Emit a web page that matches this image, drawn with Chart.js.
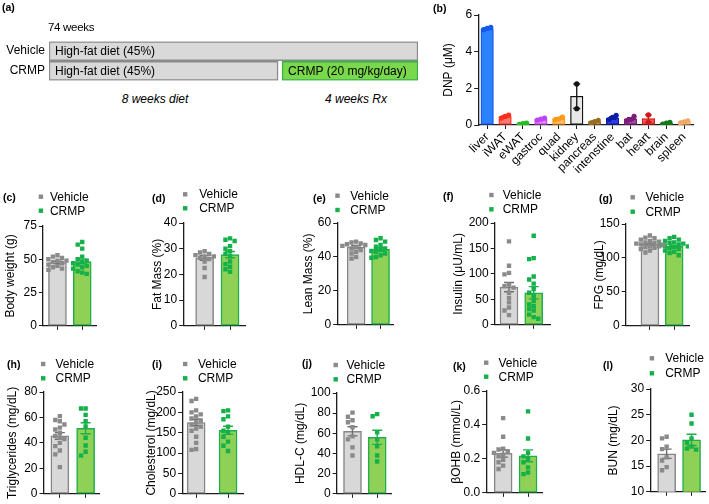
<!DOCTYPE html>
<html>
<head>
<meta charset="utf-8">
<script src="https://cdn.jsdelivr.net/npm/chart.js@4.4.1/dist/chart.umd.min.js"></script>
<style>
body { margin: 0; background: #fff; }
#fig { position: relative; width: 709px; height: 504px; overflow: hidden; font-family: "Liberation Sans", Arial, sans-serif; color: #000; }
#fig canvas { position: absolute; }
.lbl { position: absolute; font-weight: bold; font-size: 10.5px; line-height: 12px; }
.note { position: absolute; font-size: 12px; line-height: 14px; white-space: nowrap; }
</style>
</head>
<body>
<div id="fig"></div>
<script>
// ---- data ----
const groups = ['Vehicle', 'CRMP'];

// (a) study design (weeks)
const arms = ['Vehicle', 'CRMP'];
const dietSpan = [[0, 12], [0, 7.45]];
const rxSpan = [null, [7.58, 12]];

// (b) DNP by tissue
const tissues = ['liver', 'iWAT', 'eWAT', 'gastroc', 'quad', 'kidney', 'pancreas', 'intenstine', 'bat', 'heart', 'brain', 'spleen'];
const dnpMean = [5.25, 0.46, 0.07, 0.32, 0.35, 1.57, 0.18, 0.38, 0.33, 0.35, 0.1, 0.17];
const dnpSem = [0.04, 0.05, 0.02, 0.03, 0.04, 0.67, 0.04, 0.07, 0.07, 0.2, 0.03, 0.04];
const dnpPoints = [[5.2, 5.27, 5.33], [0.38, 0.47, 0.54], [0.04, 0.07, 0.1], [0.27, 0.32, 0.37], [0.29, 0.34, 0.43], [2.24, 0.89],
  [0.12, 0.18, 0.25], [0.3, 0.42, 0.52], [0.24, 0.3, 0.47], [0.55, 0.15], [0.05, 0.1, 0.15], [0.12, 0.17, 0.23]];
const tissueFill = ['#2b82ff', '#f77b74', '#6ddf6a', '#df8bfb', '#ffbe6b', '#e8e8e8', '#c29a55', '#2b3fe0', '#a24da2', '#ef5f5a', '#3da43b', '#f8cfa1'];
const tissueLine = ['#1456f0', '#ff2d1c', '#1bc21b', '#c043f2', '#ff9812', '#111111', '#9a6e22', '#0b1ba8', '#7b1b7b', '#d2191a', '#157a16', '#f1a864'];

// (c) body weight
const bwVeh = [53, 52, 51, 50, 49, 49, 48, 47, 46, 45, 44, 43, 42];
const bwCrmp = [63, 61, 58, 52, 50, 49, 48, 47, 46, 45, 44, 43, 41, 40, 39];
const bwMean = [47.6, 48.3];
const bwSem = [0.9, 1.8];
// (d) fat mass
const fatVeh = [29, 28.5, 28, 27.5, 27, 27, 26.5, 26, 25, 22.5, 19];
const fatCrmp = [34, 33.5, 33, 31, 30, 29, 28, 27, 25, 24, 23, 22, 21];
const fatMean = [26.4, 27.7];
const fatSem = [0.9, 1.2];
// (e) lean mass
const leanVeh = [49, 48.5, 48, 47.5, 47, 46.5, 46, 45, 44, 43, 42, 40, 39];
const leanCrmp = [51, 50, 49, 47, 46, 45, 44, 43.5, 43, 42, 41, 40, 39.5];
const leanMean = [45.8, 44.5];
const leanSem = [0.8, 0.9];
// (f) insulin
const insVeh = [164, 116, 102, 99, 79, 76, 73, 63, 53, 44, 34, 28, 19];
const insCrmp = [175, 131, 129, 95, 89, 81, 70, 63, 57, 47, 40, 37, 31, 28, 20, 15, 12];
const insMean = [74, 63];
const insSem = [9, 12];
// (g) FPG
const fpgVeh = [133, 130, 129, 127, 125, 124, 123, 122, 121, 120, 119, 118, 117, 116, 115, 113, 111, 108];
const fpgCrmp = [131, 129, 127, 125, 123, 122, 121, 120, 119, 118, 117, 116, 114, 113, 111, 109, 107, 104];
const fpgMean = [120, 117];
const fpgSem = [1.5, 1.7];
// (h) triglycerides
const tgVeh = [61, 58, 57, 54.5, 52, 50.5, 48, 45.5, 44, 43, 40, 37.5, 34, 31, 21];
const tgCrmp = [67, 67, 62, 57, 53, 44, 38, 33, 30];
const tgMean = [45.5, 51.5];
const tgSem = [2.6, 4.3];
// (i) cholesterol
const chVeh = [233, 228, 205, 200, 195, 190, 185, 180, 175, 170, 165, 160, 155, 140, 125, 110, 108];
const chCrmp = [205, 203, 190, 183, 165, 155, 150, 140, 128, 118, 105];
const chMean = [175, 156];
const chSem = [8, 10];
// (j) HDL-C
const hdlVeh = [80.5, 76.5, 73, 71, 66, 57, 54, 46, 38];
const hdlCrmp = [79, 77, 61, 54, 47, 38, 32];
const hdlMean = [62, 56];
const hdlSem = [4.5, 7];
// (k) beta-hydroxybutyrate
const bhbVeh = [0.44, 0.33, 0.26, 0.255, 0.245, 0.235, 0.225, 0.215, 0.195, 0.18, 0.16, 0.14];
const bhbCrmp = [0.48, 0.32, 0.235, 0.215, 0.2, 0.18, 0.15, 0.12, 0.11];
const bhbMean = [0.232, 0.218];
const bhbSem = [0.022, 0.035];
// (l) BUN
const bunVeh = [20.7, 20.4, 18.8, 18.3, 16.7, 16.1, 14.8, 14.2];
const bunCrmp = [25, 23.3, 20.4, 19.6, 18.8, 18.4, 18.2];
const bunMean = [17.4, 20.1];
const bunSem = [0.9, 1.1];

// ---- styles ----
const FONT = '"Liberation Sans", Arial, sans-serif';
const AXIS = '#1c1c1c';
const GRAY_FILL = '#d8d8d8', GRAY_LINE = '#868686', VEH_PT = '#8a8a8a';
const GREEN_FILL = '#8fd156', GREEN_LINE = '#1fae4b', CRMP_PT = '#14b04a';
Chart.defaults.font.family = FONT;
Chart.defaults.color = '#000';

const fig = document.getElementById('fig');

function addCanvas(left, top, w, h) {
  const c = document.createElement('canvas');
  c.width = w; c.height = h;
  c.style.left = left + 'px'; c.style.top = top + 'px';
  c.style.width = w + 'px'; c.style.height = h + 'px';
  fig.appendChild(c);
  return c;
}

function addText(cls, text, x, cy, extra) {
  const d = document.createElement('div');
  d.className = cls;
  d.textContent = text;
  d.style.left = x + 'px';
  d.style.top = (cy - (cls === 'lbl' ? 6 : 7)) + 'px';
  if (extra) Object.assign(d.style, extra);
  fig.appendChild(d);
}

// simple centre-out swarm so squares don't overlap
function swarm(vals, pxPerVal, pxPerX) {
  const s = 4.6;
  const idx = vals.map((v, i) => i).sort((a, b) => vals[b] - vals[a]);
  const placed = [], out = [];
  idx.forEach(i => {
    const y = vals[i] * pxPerVal;
    let best = 0;
    for (const k of [0, -1, 1, -2, 2, -3, 3]) {
      best = k * s;
      if (placed.every(p => Math.abs(p.y - y) >= s || Math.abs(p.x - best) >= s)) break;
    }
    placed.push({ x: best, y });
    out[i] = best / pxPerX;
  });
  return out;
}

const errBars = {
  id: 'errBars',
  afterDatasetDraw(chart, args, o) {
    if (args.meta.type !== 'bar') return;
    const x = chart.scales.x, y = chart.scales.y, ctx = chart.ctx;
    ctx.save();
    ctx.lineWidth = o.width;
    o.mean.forEach((m, i) => {
      const px = x.getPixelForValue(i);
      const hi = y.getPixelForValue(m + o.sem[i]);
      const lo = y.getPixelForValue(Math.max(m - o.sem[i], y.min));
      ctx.strokeStyle = o.colors[i];
      ctx.beginPath();
      ctx.moveTo(px, hi); ctx.lineTo(px, lo);
      ctx.moveTo(px - o.cap, hi); ctx.lineTo(px + o.cap, hi);
      ctx.moveTo(px - o.cap, lo); ctx.lineTo(px + o.cap, lo);
      ctx.stroke();
    });
    ctx.restore();
  }
};

const groupLegend = {
  id: 'groupLegend',
  afterDraw(chart, args, o) {
    const ctx = chart.ctx;
    ctx.save();
    ctx.font = '12px ' + FONT;
    ctx.textBaseline = 'middle';
    groups.forEach((g, i) => {
      ctx.fillStyle = o.colors[i];
      ctx.fillRect(o.mx - 2.2, o.y[i] - 2.2, 4.4, 4.4);
      ctx.fillStyle = '#000';
      ctx.fillText(g, o.tx, o.y[i] + 0.5);
    });
    ctx.restore();
  }
};

const barText = {
  id: 'barText',
  afterDatasetsDraw(chart) {
    const ctx = chart.ctx;
    ctx.save();
    ctx.font = '12px ' + FONT;
    ctx.fillStyle = '#000';
    ctx.textBaseline = 'middle';
    chart.data.datasets.forEach((ds, di) => {
      chart.getDatasetMeta(di).data.forEach((el, i) => {
        if (ds.data[i] == null) return;
        ctx.fillText(ds.label, Math.min(el.x, el.base) + 6, el.y + 0.5);
      });
    });
    ctx.restore();
  }
};

// ---- (a) design ----
function designChart() {
  const ct = 30, left = 49, right = 418, top = 40, bottom = 83.5;
  const w = right + 2, h = Math.ceil(bottom + 8.5 - ct);
  const canvas = addCanvas(0, ct, w, h);
  new Chart(canvas, {
    type: 'bar',
    data: {
      labels: arms,
      datasets: [
        { label: 'High-fat diet (45%)', data: dietSpan, backgroundColor: '#d9d9d9', borderColor: '#8a8a8a', borderWidth: 1.5, barThickness: 19, borderSkipped: false, grouped: false },
        { label: 'CRMP (20 mg/kg/day)', data: rxSpan, backgroundColor: '#7ad84c', borderColor: '#34b34a', borderWidth: 1.5, barThickness: 19, borderSkipped: false, grouped: false }
      ]
    },
    options: {
      indexAxis: 'y', responsive: false, animation: false, devicePixelRatio: 1,
      layout: { padding: { top: top - ct, bottom: h - (bottom - ct), right: 2, left: 0 } },
      plugins: { legend: { display: false }, tooltip: { enabled: false } },
      scales: {
        x: { type: 'linear', min: 0, max: 12, display: false },
        y: { grid: { display: false, drawTicks: false }, border: { display: false }, ticks: { font: { size: 12 }, color: '#000', padding: 4 },
             afterFit: s => { s.width = left; } }
      }
    },
    plugins: [barText]
  });
  addText('note', '74 weeks', 48, 26.7, { fontSize: '11.5px', letterSpacing: '-0.3px' });
  addText('note', '8 weeks diet', 155, 99, { fontStyle: 'italic', transform: 'translateX(-50%)' });
  addText('note', '4 weeks Rx', 356, 99, { fontStyle: 'italic', transform: 'translateX(-50%)' });
}

// ---- (b) DNP ----
function dnpChart() {
  const cl = 448 - 7.2, ct = 0, top = 15, bottom = 125, axisX = 478, endX = 693;
  const w = Math.ceil(endX - cl + 12), h = bottom + 52;
  const canvas = addCanvas(cl, ct, w, h);
  const pts = [], ptCol = [];
  dnpPoints.forEach((arr, i) => arr.forEach((v, j) => {
    const off = arr.length === 3 ? (j - 1) * 0.2 : 0;
    pts.push({ x: i + off, y: v });
    ptCol.push(tissueLine[i]);
  }));
  new Chart(canvas, {
    type: 'bar',
    data: {
      datasets: [
        { type: 'bar', data: dnpMean.map((m, i) => ({ x: i, y: m })), backgroundColor: tissueFill, borderColor: tissueLine,
          borderWidth: 1.3, barThickness: 12.5, borderSkipped: false, order: 3 },
        { type: 'scatter', data: pts, backgroundColor: ptCol, pointRadius: 2.6, borderWidth: 0, order: 1 }
      ]
    },
    options: {
      responsive: false, animation: false, devicePixelRatio: 1,
      layout: { padding: { top: top - ct, right: w - (endX - cl), left: 0, bottom: 0 } },
      plugins: { legend: { display: false }, tooltip: { enabled: false },
                 errBars: { mean: dnpMean, sem: dnpSem, colors: tissueLine, cap: 3.5, width: 1.3 } },
      scales: {
        x: { type: 'linear', min: -0.5, max: 11.5, offset: false,
             afterBuildTicks: s => { s.ticks = tissues.map((t, i) => ({ value: i })); },
             ticks: { autoSkip: false, minRotation: 45, maxRotation: 45, padding: 1, font: { size: 12 }, color: '#000', callback: v => tissues[v] },
             grid: { drawOnChartArea: false, tickLength: 4, color: AXIS, offset: false }, border: { color: AXIS, width: 1.3 },
             afterFit: s => { s.height = h - bottom; } },
        y: { min: 0, max: 6, ticks: { stepSize: 2, font: { size: 12 }, color: '#000', padding: 2 },
             grid: { drawOnChartArea: false, tickLength: 4, color: AXIS }, border: { color: AXIS, width: 1.3 },
             title: { display: true, text: 'DNP (μM)', font: { size: 12 }, color: '#000', padding: 0 },
             afterFit: s => { s.width = axisX - cl; } }
      }
    },
    plugins: [errBars]
  });
}

// ---- (c)-(l) vehicle vs CRMP ----
function groupPanel(p) {
  const cl = p.titleX - 7.2, ct = p.canvasTop;
  const w = Math.ceil(p.endX - cl + 3), h = Math.ceil(p.bottom + 8 - ct);
  const canvas = addCanvas(cl, ct, w, h);
  const unit = p.crmpX - p.vehX;
  const xmin = -(p.vehX - p.axisX) / unit, xmax = 1 + (p.endX - p.crmpX) / unit;
  const pxPerVal = (p.bottom - p.top) / (p.max - p.min);
  const offV = swarm(p.veh, pxPerVal, unit), offC = swarm(p.crmp, pxPerVal, unit);
  new Chart(canvas, {
    type: 'bar',
    data: {
      datasets: [
        { type: 'bar', data: p.mean.map((m, i) => ({ x: i, y: m })), backgroundColor: [GRAY_FILL, GREEN_FILL], borderColor: [GRAY_LINE, GREEN_LINE],
          borderWidth: 1.5, barThickness: 18, borderSkipped: false, order: 3 },
        { type: 'scatter', label: groups[0], data: p.veh.map((v, i) => ({ x: offV[i], y: v })), pointStyle: 'rect', pointRadius: 3.1,
          backgroundColor: VEH_PT, borderWidth: 0, order: 1 },
        { type: 'scatter', label: groups[1], data: p.crmp.map((v, i) => ({ x: 1 + offC[i], y: v })), pointStyle: 'rect', pointRadius: 3.1,
          backgroundColor: CRMP_PT, borderWidth: 0, order: 1 }
      ]
    },
    options: {
      responsive: false, animation: false, devicePixelRatio: 1,
      layout: { padding: { top: p.top - ct, right: w - (p.endX - cl), left: 0, bottom: 0 } },
      plugins: {
        legend: { display: false }, tooltip: { enabled: false },
        errBars: { mean: p.mean, sem: p.sem, colors: ['#6e6e6e', GREEN_LINE], cap: 5, width: 1.4 },
        groupLegend: { mx: p.leg.mx - cl, tx: p.leg.tx - cl, y: [p.leg.y[0] - ct, p.leg.y[1] - ct], colors: [VEH_PT, CRMP_PT] }
      },
      scales: {
        x: { type: 'linear', min: xmin, max: xmax, offset: false,
             afterBuildTicks: s => { s.ticks = [{ value: 0 }, { value: 1 }]; },
             ticks: { display: false },
             grid: { drawOnChartArea: false, tickLength: 4, color: AXIS, offset: false }, border: { color: AXIS, width: 1.3 },
             afterFit: s => { s.height = 8; } },
        y: { min: p.min, max: p.max,
             ticks: { stepSize: p.step, font: { size: 12 }, color: '#000', padding: 2, callback: p.fmt || (v => v) },
             grid: { drawOnChartArea: false, tickLength: 4, color: AXIS }, border: { color: AXIS, width: 1.3 },
             title: { display: true, text: p.title, font: { size: 12 }, color: '#000', padding: 0 },
             afterFit: s => { s.width = p.axisX - cl; } }
      }
    },
    plugins: [errBars, groupLegend]
  });
}

const panels = [
  { title: 'Body weight (g)', veh: bwVeh, crmp: bwCrmp, mean: bwMean, sem: bwSem, min: 0, max: 75, step: 25,
    titleX: 10.3, axisX: 43, vehX: 57.8, crmpX: 83, endX: 97, top: 226, bottom: 327, canvasTop: 184, leg: { mx: 41, tx: 50, y: [196.7, 210.7] } },
  { title: 'Fat Mass (%)', veh: fatVeh, crmp: fatCrmp, mean: fatMean, sem: fatSem, min: 0, max: 40, step: 10,
    titleX: 157, axisX: 183, vehX: 204.5, crmpX: 230, endX: 245, top: 223, bottom: 327, canvasTop: 184, leg: { mx: 185, tx: 199, y: [194.3, 208.3] } },
  { title: 'Lean Mass (%)', veh: leanVeh, crmp: leanCrmp, mean: leanMean, sem: leanSem, min: 0, max: 60, step: 20,
    titleX: 308, axisX: 337, vehX: 356, crmpX: 380.5, endX: 393, top: 223, bottom: 326, canvasTop: 184, leg: { mx: 337.3, tx: 350, y: [195.7, 210] } },
  { title: 'Insulin (μU/mL)', veh: insVeh, crmp: insCrmp, mean: insMean, sem: insSem, min: 0, max: 200, step: 50,
    titleX: 458.5, axisX: 495, vehX: 509.5, crmpX: 534.5, endX: 551, top: 223, bottom: 326, canvasTop: 184, leg: { mx: 491.7, tx: 503, y: [195, 209.3] } },
  { title: 'FPG (mg/dL)', veh: fpgVeh, crmp: fpgCrmp, mean: fpgMean, sem: fpgSem, min: 0, max: 150, step: 50,
    titleX: 599.5, axisX: 626, vehX: 650.5, crmpX: 675, endX: 690, top: 224, bottom: 327, canvasTop: 184, leg: { mx: 633, tx: 645.7, y: [197.3, 211.7] } },
  { title: 'Triglycerides (mg/dL)', veh: tgVeh, crmp: tgCrmp, mean: tgMean, sem: tgSem, min: 0, max: 80, step: 20,
    titleX: 11.7, axisX: 43, vehX: 59.5, crmpX: 85.5, endX: 99, top: 392, bottom: 495, canvasTop: 352, leg: { mx: 42.7, tx: 55, y: [364, 378.3] } },
  { title: 'Cholesterol (mg/dL)', veh: chVeh, crmp: chCrmp, mean: chMean, sem: chSem, min: 0, max: 250, step: 50,
    titleX: 151, axisX: 182, vehX: 196, crmpX: 228, endX: 243, top: 392, bottom: 495, canvasTop: 352, leg: { mx: 185, tx: 197.7, y: [364, 378.3] } },
  { title: 'HDL-C (mg/dL)', veh: hdlVeh, crmp: hdlCrmp, mean: hdlMean, sem: hdlSem, min: 0, max: 100, step: 20,
    titleX: 300.5, axisX: 337, vehX: 353, crmpX: 378, endX: 392, top: 393, bottom: 495, canvasTop: 352, leg: { mx: 336, tx: 346.7, y: [365, 379.3] } },
  { title: 'βOHB (mmol/L)', veh: bhbVeh, crmp: bhbCrmp, mean: bhbMean, sem: bhbSem, min: 0, max: 0.6, step: 0.2, fmt: v => v.toFixed(1),
    titleX: 456, axisX: 486, vehX: 503, crmpX: 528, endX: 542, top: 391, bottom: 494, canvasTop: 352, leg: { mx: 486, tx: 498.3, y: [362.7, 376.7] } },
  { title: 'BUN (mg/dL)', veh: bunVeh, crmp: bunCrmp, mean: bunMean, sem: bunSem, min: 10, max: 30, step: 5,
    titleX: 613, axisX: 650, vehX: 666.5, crmpX: 691.5, endX: 705, top: 389, bottom: 493, canvasTop: 350, leg: { mx: 651.7, tx: 665, y: [358.3, 373.3] } }
];

designChart();
dnpChart();
panels.forEach(groupPanel);

// panel letters
[['(a)', 2, 7.3], ['(b)', 433, 8], ['(c)', 3, 196.7], ['(d)', 152, 198], ['(e)', 313, 198], ['(f)', 443, 196],
 ['(g)', 599, 198], ['(h)', 7, 364], ['(i)', 152, 364], ['(j)', 302, 363.3], ['(k)', 453, 366], ['(l)', 603, 365]]
  .forEach(([t, x, y]) => addText('lbl', t, x, y));
</script>
</body>
</html>
